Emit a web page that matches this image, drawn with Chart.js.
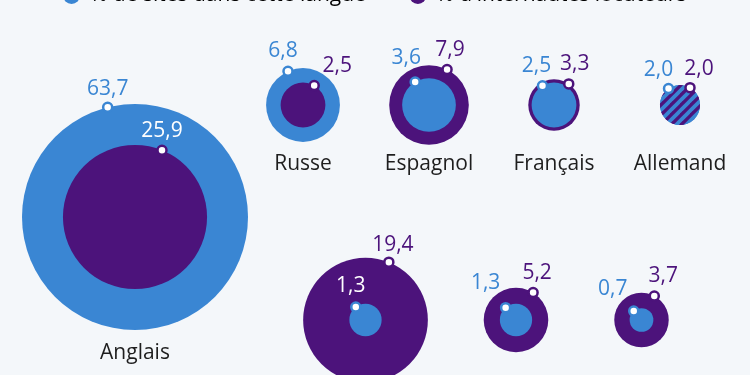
<!DOCTYPE html>
<html lang="fr">
<head>
<meta charset="utf-8">
<script src="https://cdn.jsdelivr.net/npm/chart.js@4.4.1/dist/chart.umd.min.js"></script>
<style>
  html, body { margin: 0; padding: 0; background: #f4f7fa; overflow: hidden; }
  #wrap { position: absolute; left: 0; }
</style>
</head>
<body>
<div id="wrap"><canvas id="langues"></canvas></div>
<script>
// Data
const langues = ['Anglais', 'Russe', 'Espagnol', 'Français', 'Allemand', 'Chinois', 'Arabe', 'Portugais'];
const partSites = [63.7, 6.8, 3.6, 2.5, 2.0, 1.3, 1.3, 0.7];
const partInternautes = [25.9, 2.5, 7.9, 3.3, 2.0, 19.4, 5.2, 3.7];
const legendeSeries = ['% de sites dans cette langue', "% d'internautes locuteurs"];

// Layout (px in the 750x375 frame)
const centreX = [135, 303, 429, 554, 680, 365.5, 516, 641.5];
const centreY = [217, 105, 105, 105, 105, 320, 320, 320];
const nomY = [359, 170, 170, 170, 170, 414, 414, 414]; // baseline of language names
// where the little ring sits on each circle (degrees from top, + = right)
const angleSites = [-14, -24, -31, -31, -35, -37, -40, -41];
const angleInternautes = [22, 30, 27, 35, 30, 22, 32, 28];
// value label offset from the ring
const decalSites = [[0, -20], [-5, -22], [-9, -25], [-6, -21], [-10, -20], [-5, -23], [-20, -26], [-21, -24]];
const decalInternautes = [[0, -21], [23, -21], [3, -21], [6, -21], [9, -20], [4, -19], [4, -21], [9, -21]];

const BLEU = '#3a86d3';
const VIOLET = '#4c137b';
const TEXTE = '#1e1e1e';
const couleurs = [BLEU, VIOLET];
const K = 113 / Math.sqrt(63.7); // px per sqrt(%), area proportional
const LEGEND_FONT = 21;
const LEGEND_PAD = 44;
const TOP = -Math.round(LEGEND_PAD + LEGEND_FONT / 2 + 4);
const H = 420 - TOP;

const wrap = document.getElementById('wrap');
wrap.style.top = TOP + 'px';
const canvas = document.getElementById('langues');
canvas.width = 750;
canvas.height = H;

Chart.defaults.font.family = '"Open Sans", sans-serif';

const rayon = v => K * Math.sqrt(v);

function bord(i, serie) {
    const v = serie === 0 ? partSites[i] : partInternautes[i];
    const a = (serie === 0 ? angleSites[i] : angleInternautes[i]) * Math.PI / 180;
    const r = rayon(v);
    return { x: centreX[i] + r * Math.sin(a), y: centreY[i] - r * Math.cos(a) };
}

// stripes for equal shares
const tuile = document.createElement('canvas');
tuile.width = tuile.height = 10;
const tc = tuile.getContext('2d');
tc.fillStyle = VIOLET;
tc.fillRect(0, 0, 10, 10);
tc.strokeStyle = BLEU;
tc.lineWidth = 3.8;
[0, 10, 20].forEach(s => {
    tc.beginPath();
    tc.moveTo(-1, s + 1);
    tc.lineTo(s + 1, -1);
    tc.stroke();
});
const rayures = tc.createPattern(tuile, 'repeat');

function couleurAvant(i) {
    if (partSites[i] === partInternautes[i]) return rayures;
    return partSites[i] < partInternautes[i] ? BLEU : VIOLET;
}
function couleurArriere(i) {
    if (partSites[i] === partInternautes[i]) return rayures;
    return partSites[i] > partInternautes[i] ? BLEU : VIOLET;
}

const avant = langues.map((l, i) => ({ x: centreX[i], y: centreY[i], r: rayon(Math.min(partSites[i], partInternautes[i])) }));
const arriere = langues.map((l, i) => ({ x: centreX[i], y: centreY[i], r: rayon(Math.max(partSites[i], partInternautes[i])) }));
const anneauxSites = langues.map((l, i) => ({ ...bord(i, 0), r: 4.5 }));
const anneauxInternautes = langues.map((l, i) => ({ ...bord(i, 1), r: 4.5 }));

const fmt = v => v.toFixed(1).replace('.', ',');

const textes = {
    id: 'textes',
    afterDatasetsDraw(chart) {
        const { ctx, scales: { x, y } } = chart;
        ctx.save();
        ctx.textAlign = 'center';
        ctx.textBaseline = 'alphabetic';
        ctx.font = '21px "Open Sans"';
        langues.forEach((nom, i) => {
            ctx.fillStyle = TEXTE;
            ctx.fillText(nom, x.getPixelForValue(centreX[i]), y.getPixelForValue(nomY[i]));
            [0, 1].forEach(s => {
                const p = bord(i, s);
                const d = s === 0 ? decalSites[i] : decalInternautes[i];
                const lx = p.x + d[0];
                const ly = p.y + d[1];
                const v = s === 0 ? partSites[i] : partInternautes[i];
                const autre = s === 0 ? partInternautes[i] : partSites[i];
                const dist = Math.hypot(lx - centreX[i], ly - centreY[i]);
                const dedans = v < autre && dist < rayon(autre);
                ctx.fillStyle = dedans ? '#ffffff' : couleurs[s];
                ctx.fillText(fmt(v), x.getPixelForValue(lx), y.getPixelForValue(ly + 7.5));
            });
        });
        ctx.restore();
    }
};

new Chart(canvas.getContext('2d'), {
    type: 'bubble',
    data: {
        datasets: [
            {
                label: 'anneaux sites',
                data: anneauxSites,
                backgroundColor: '#ffffff',
                borderColor: BLEU,
                borderWidth: 2.5
            },
            {
                label: 'anneaux internautes',
                data: anneauxInternautes,
                backgroundColor: '#ffffff',
                borderColor: VIOLET,
                borderWidth: 2.5
            },
            {
                label: 'petit cercle',
                data: avant,
                backgroundColor: c => couleurAvant(c.dataIndex),
                borderWidth: 0
            },
            {
                label: 'grand cercle',
                data: arriere,
                backgroundColor: c => couleurArriere(c.dataIndex),
                borderWidth: 0
            }
        ]
    },
    options: {
        responsive: false,
        animation: false,
        events: [],
        clip: false,
        layout: { padding: 0, autoPadding: false },
        plugins: {
            tooltip: { enabled: false },
            legend: {
                position: 'top',
                labels: {
                    usePointStyle: true,
                    boxWidth: 16,
                    boxHeight: 12,
                    padding: LEGEND_PAD,
                    color: TEXTE,
                    font: { size: LEGEND_FONT },
                    generateLabels: () => legendeSeries.map((t, i) => ({
                        text: t,
                        fillStyle: couleurs[i],
                        strokeStyle: couleurs[i],
                        lineWidth: 0,
                        pointStyle: 'circle',
                        hidden: false,
                        datasetIndex: i
                    }))
                }
            }
        },
        scales: {
            x: { type: 'linear', display: false, min: 0, max: 750 },
            y: { type: 'linear', display: false, min: 16, max: H + TOP, reverse: true }
        }
    },
    plugins: [textes]
});
</script>
</body>
</html>
